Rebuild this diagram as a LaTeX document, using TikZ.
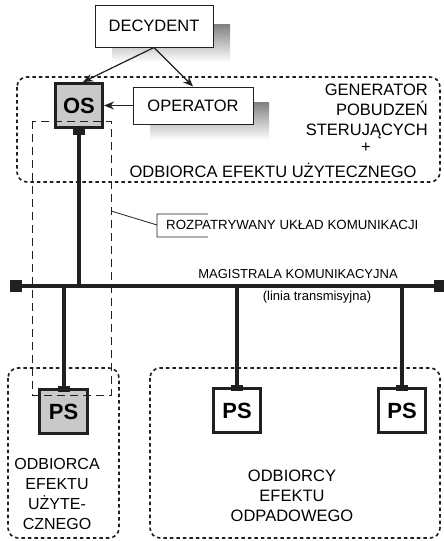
\documentclass[tikz,border=0pt]{standalone}
\usepackage{fontspec}
\setmainfont{Liberation Sans}
\usetikzlibrary{arrows.meta,positioning}
\definecolor{ink}{HTML}{231F20}
\definecolor{shade}{HTML}{C9C9C9}
\tikzset{
  box/.style={draw=ink,line width=1pt,fill=white,minimum width=118pt,minimum height=42pt,inner sep=0pt,font=\fontsize{16.5}{20}\selectfont},
  stn/.style={draw=ink,line width=3pt,fill=white,minimum width=47pt,minimum height=44pt,inner sep=0pt,font=\fontsize{22}{24}\selectfont\bfseries},
  plug/.style={fill=ink,minimum width=12pt,minimum height=6pt,inner sep=0pt},
  grp/.style={draw=ink,line width=1.6pt,dash pattern=on 3.5pt off 3pt,rounded corners=10pt},
  zone/.style={draw=ink,line width=0.8pt,dash pattern=on 8pt off 5pt},
  bus/.style={draw=ink,line width=4pt},
  arr/.style={-{Stealth[length=10pt,width=8pt]},line width=1.2pt,color=ink},
  txt/.style={align=center,inner sep=0pt,font=\fontsize{16.5}{20}\selectfont},
  lbl/.style={inner sep=0pt,font=\fontsize{13}{15}\selectfont}}
\begin{document}
\begin{tikzpicture}[x=1pt,y=-1pt]
\useasboundingbox (0,0) rectangle (444,541);
% cienie
\fill[shade] (112,24) rectangle (230,62);
\fill[shade] (150,102) rectangle (269,140);
% obszary
\draw[grp] (17,77) rectangle (440,182);
\draw[grp] (8,368) rectangle (119,538);
\draw[grp] (150,368) rectangle (440,538);
% wezly
\node[box] (dec) at (154,26) {DECYDENT};
\node[box,minimum width=120pt,minimum height=37pt] (oper) at (193,105.5) {OPERATOR};
\node[stn,fill=shade] (os) at (79,105.5) {OS};
\node[plug] (osplug) at (79,132) {};
\node[stn,minimum width=48pt,fill=shade] (ps1) at (63.5,411.5) {PS};
\node[stn] (ps2) at (237,410.5) {PS};
\node[stn] (ps3) at (402,410.5) {PS};
\foreach \p in {ps1,ps2,ps3}
  \node[plug] (\p plug) at ([yshift=-1pt]\p.north) {};
% magistrala
\node[fill=ink,minimum size=12pt,inner sep=0pt] (bl) at (16,285.5) {};
\node[fill=ink,minimum size=12pt,inner sep=0pt] (br) at (440,285.5) {};
\draw[bus] (bl.center) -- (br.center);
\draw[bus] (osplug) -- (osplug |- bl);
\foreach \p in {ps1,ps2,ps3}
  \draw[bus] (\p plug |- bl) -- (\p plug);
% strzalki
\draw[arr] (dec.south) -- ([xshift=4pt]os.north);
\draw[arr] (dec.south) -- (oper.north);
\draw[arr] (oper.west) -- (os.east);
% opisy
\node[txt,align=right,anchor=east] (gen) at (428,111) {GENERATOR\\POBUDZEŃ\\STERUJĄCYCH};
\node[txt] (plus) at (366,148) {+};
\node[txt] (odb) at (273,170) {ODBIORCA EFEKTU UŻYTECZNEGO};
\node[txt,font=\fontsize{16}{20.3}\selectfont] (odbl) at (57,494) {ODBIORCA\\EFEKTU\\UŻYTE-\\CZNEGO};
\node[txt] (odbr) at (292,496) {ODBIORCY\\EFEKTU\\ODPADOWEGO};
\node[lbl] (mag) at (298,274) {MAGISTRALA KOMUNIKACYJNA};
\node[lbl] (lin) at (317,297) {(linia transmisyjna)};
% rozpatrywany uklad
\draw[zone] (32,121) rectangle (111,395);
\node[lbl,font=\fontsize{13.3}{15}\selectfont,anchor=west] (rozp) at (166,225) {ROZPATRYWANY UKŁAD KOMUNIKACJI};
\coordinate (zt) at (111,211);
\coordinate (kb) at (157,225);
\draw[ink,line width=0.8pt] (zt) -- (kb) (208,214) -- (157,214) -- (157,237) -- (208,237);
\end{tikzpicture}
\end{document}
